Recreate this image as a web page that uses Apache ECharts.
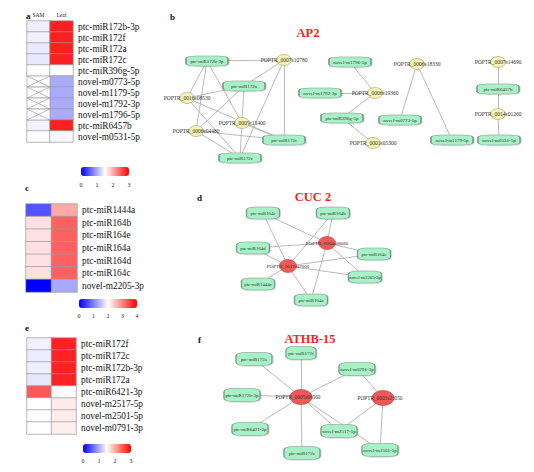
<!DOCTYPE html>
<html><head><meta charset="utf-8">
<script src="https://cdn.jsdelivr.net/npm/echarts@6/dist/echarts.min.js"></script>
<style>html,body{margin:0;padding:0;background:#fff}#c{width:534px;height:472px}</style>
</head><body><div id="c"></div>
<script>
const FONT = 'Liberation Serif';
const cols = ['SAM', 'Leaf'];

// ---- heatmap a ----
const aRows = ['ptc-miR172b-3p','ptc-miR172f','ptc-miR172a','ptc-miR172c','ptc-miR396g-5p','novel-m0773-5p','novel-m1179-5p','novel-m1792-3p','novel-m1796-5p','ptc-miR6457b','novel-m0531-5p'];
const aSAM  = [1.40, 1.42, 1.37, 1.37, 1.50, null, null, null, null, 1.42, 1.50];
const aLeaf = [2.82, 2.82, 2.82, 2.82, 1.50, 1.00, 1.00, 1.00, 1.00, 2.82, 1.46];
const aTicks = [0, 1, 2, 3];

// ---- heatmap c ----
const cRows = ['ptc-miR1444a','ptc-miR164b','ptc-miR164e','ptc-miR164a','ptc-miR164d','ptc-miR164c','novel-m2205-3p'];
const cSAM  = [0.65, 2.24, 2.24, 2.24, 2.24, 2.24, 0.00];
const cLeaf = [2.68, 3.25, 3.25, 3.25, 3.25, 3.25, 1.32];
const cTicks = [0, 1, 2, 3, 4];

// ---- heatmap e ----
const eRows = ['ptc-miR172f','ptc-miR172c','ptc-miR172b-3p','ptc-miR172a','ptc-miR6421-3p','novel-m2517-5p','novel-m2501-5p','novel-m0791-3p'];
const eSAM  = [1.41, 1.39, 1.40, 1.35, 2.48, 1.50, 1.50, 1.50];
const eLeaf = [2.80, 2.80, 2.80, 2.80, 1.50, 1.62, 1.62, 1.60];
const eTicks = [0, 1, 2, 3];

// ---- network b (AP2) ----
const bNodes = [
  ['ptc-miR172b-3p','mirna'],['POPTR_0007s10780','gene'],['ptc-miR172a','mirna'],['POPTR_0016s08530','gene'],
  ['POPTR_0005s15400','gene'],['POPTR_0006s04480','gene'],['ptc-miR172f','mirna'],['ptc-miR172c','mirna'],
  ['novel-m1796-5p','mirna'],['novel-m1792-3p','mirna'],['POPTR_0006s19360','gene'],['ptc-miR396g-5p','mirna'],
  ['POPTR_0001s05300','gene'],['POPTR_0006s18330','gene'],['novel-m0773-5p','mirna'],['novel-m1179-5p','mirna'],
  ['POPTR_0007s14690','gene'],['ptc-miR6457b','mirna'],['POPTR_0014s01260','gene'],['novel-m0531-5p','mirna']
];
const bEdges = [
  ['ptc-miR172b-3p','POPTR_0007s10780'],['ptc-miR172b-3p','POPTR_0016s08530'],['ptc-miR172b-3p','POPTR_0005s15400'],['ptc-miR172b-3p','POPTR_0006s04480'],
  ['ptc-miR172a','POPTR_0007s10780'],['ptc-miR172a','POPTR_0016s08530'],['ptc-miR172a','POPTR_0005s15400'],['ptc-miR172a','POPTR_0006s04480'],
  ['ptc-miR172f','POPTR_0007s10780'],['ptc-miR172f','POPTR_0016s08530'],['ptc-miR172f','POPTR_0005s15400'],['ptc-miR172f','POPTR_0006s04480'],
  ['ptc-miR172c','POPTR_0007s10780'],['ptc-miR172c','POPTR_0016s08530'],['ptc-miR172c','POPTR_0005s15400'],['ptc-miR172c','POPTR_0006s04480'],
  ['novel-m1796-5p','POPTR_0006s19360'],['novel-m1792-3p','POPTR_0006s19360'],['ptc-miR396g-5p','POPTR_0006s19360'],['ptc-miR396g-5p','POPTR_0001s05300'],
  ['POPTR_0006s18330','novel-m0773-5p'],['POPTR_0006s18330','novel-m1179-5p'],
  ['POPTR_0007s14690','ptc-miR6457b'],['ptc-miR6457b','POPTR_0014s01260'],['POPTR_0014s01260','novel-m0531-5p']
];
// ---- network d (CUC 2) ----
const dNodes = [
  ['ptc-miR164c','mirna'],['ptc-miR164b','mirna'],['POPTR_0004s08680','gene'],['ptc-miR164d','mirna'],['ptc-miR164e','mirna'],
  ['POPTR_0017s07000','gene'],['ptc-miR1444a','mirna'],['novel-m2205-3p','mirna'],['ptc-miR164a','mirna']
];
const dEdges = [
  ['ptc-miR164c','POPTR_0004s08680'],['ptc-miR164c','POPTR_0017s07000'],['ptc-miR164b','POPTR_0004s08680'],['ptc-miR164b','POPTR_0017s07000'],
  ['ptc-miR164d','POPTR_0004s08680'],['ptc-miR164d','POPTR_0017s07000'],['ptc-miR164e','POPTR_0004s08680'],['ptc-miR164e','POPTR_0017s07000'],
  ['ptc-miR1444a','POPTR_0017s07000'],['novel-m2205-3p','POPTR_0004s08680'],['novel-m2205-3p','POPTR_0017s07000'],
  ['ptc-miR164a','POPTR_0004s08680'],['ptc-miR164a','POPTR_0017s07000']
];
// ---- network f (ATHB-15) ----
const fNodes = [
  ['ptc-miR172a','mirna'],['ptc-miR172f','mirna'],['novel-m0791-3p','mirna'],['POPTR_0005s06560','gene'],['ptc-miR172b-3p','mirna'],
  ['POPTR_0001s23050','gene'],['ptc-miR6421-3p','mirna'],['novel-m2517-5p','mirna'],['ptc-miR172c','mirna'],['novel-m2501-5p','mirna']
];
const fEdges = [
  ['ptc-miR172a','POPTR_0005s06560'],['ptc-miR172f','POPTR_0005s06560'],['novel-m0791-3p','POPTR_0005s06560'],['novel-m0791-3p','POPTR_0001s23050'],
  ['ptc-miR172b-3p','POPTR_0005s06560'],['ptc-miR6421-3p','POPTR_0005s06560'],['ptc-miR172c','POPTR_0005s06560'],
  ['novel-m2517-5p','POPTR_0005s06560'],['novel-m2501-5p','POPTR_0005s06560'],['novel-m2517-5p','POPTR_0001s23050'],['novel-m2501-5p','POPTR_0001s23050']
];

// ---- layout (positions on page, pixels) ----
const bPos = {
  'ptc-miR172b-3p':[207,61],'POPTR_0007s10780':[284,60],'ptc-miR172a':[244,86],'POPTR_0016s08530':[187,98],
  'POPTR_0005s15400':[242,123],'POPTR_0006s04480':[196,131],'ptc-miR172f':[284,140],'ptc-miR172c':[240,158],
  'novel-m1796-5p':[350,62],'novel-m1792-3p':[320,93],'POPTR_0006s19360':[375,93],'ptc-miR396g-5p':[342,118],
  'POPTR_0001s05300':[373,143],'POPTR_0006s18330':[417,64],'novel-m0773-5p':[400,120],'novel-m1179-5p':[452,140],
  'POPTR_0007s14690':[498,62],'ptc-miR6457b':[498,89],'POPTR_0014s01260':[498,114],'novel-m0531-5p':[499,140]
};
const dPos = {
  'ptc-miR164c':[263,213],'ptc-miR164b':[333,213],'POPTR_0004s08680':[327,243],'ptc-miR164d':[253,248],
  'ptc-miR164e':[374,254],'POPTR_0017s07000':[288,266],'ptc-miR1444a':[258,284],'novel-m2205-3p':[365,277],'ptc-miR164a':[311,300]
};
const fPos = {
  'ptc-miR172a':[254,359],'ptc-miR172f':[301,353],'novel-m0791-3p':[357,369],'POPTR_0005s06560':[301,397],
  'ptc-miR172b-3p':[242,395],'POPTR_0001s23050':[383,398],'ptc-miR6421-3p':[250,429],'novel-m2517-5p':[339,431],
  'ptc-miR172c':[302,453],'novel-m2501-5p':[380,450]
};

const ELLIPSE = 'path://M0,50A50,50,0,1,1,100,50A50,50,0,1,1,0,50Z';
const netStyle = {
  b: {rect:[42,10], gene:[15,11], geneColor:'#f7f3b2', geneBorder:'#b5ad7a', mFont:5, gFont:5.5},
  d: {rect:[33,12], gene:[17,13], geneColor:'#f25858', geneBorder:'#c04848', mFont:4.8, gFont:5},
  f: {rect:[36,13], gene:[22,15], geneColor:'#f25858', geneBorder:'#c04848', mFont:5, gFont:5.3}
};
const sizeOverride = {'f:ptc-miR172f':[30,13]};

function buildGraph(key, nodes, edges, pos) {
  const st = netStyle[key];
  return {
    type: 'graph', coordinateSystem: 'cartesian2d', xAxisIndex: 3, yAxisIndex: 3,
    silent: true, z: 5,
    data: nodes.map(([n, t]) => {
      const isGene = t === 'gene';
      return {
        name: n, value: pos[n],
        symbol: isGene ? ELLIPSE : 'roundRect',
        symbolSize: isGene ? st.gene : (sizeOverride[key + ':' + n] || st.rect),
        itemStyle: isGene
          ? {color: st.geneColor, borderColor: st.geneBorder, borderWidth: 0.7}
          : {color: '#a6f2c6', borderColor: '#7d9a8a', borderWidth: 0.8, shadowColor: 'rgba(0,0,0,0.25)', shadowBlur: 1.5, shadowOffsetX: 0.5, shadowOffsetY: 0.5},
        label: {show: true, position: 'inside', fontFamily: FONT, fontSize: isGene ? st.gFont : st.mFont, color: '#333',
                offset: (isGene && key === 'f') ? [-3, 0] : [0, 0]}
      };
    }),
    links: edges.map(([s, t]) => ({source: s, target: t})),
    lineStyle: {color: '#a8a8a8', width: 0.8, opacity: 1, curveness: 0},
    emphasis: {disabled: true}
  };
}

function hmData(sam, leaf) {
  const out = [];
  sam.forEach((v, i) => { if (v !== null) out.push([0, i, v]); });
  leaf.forEach((v, i) => { if (v !== null) out.push([1, i, v]); });
  return out;
}
const crossData = aSAM.map((v, i) => v === null ? [0, i] : null).filter(d => d);

const grids = [
  {left: 27, top: 21, width: 46, height: 121},
  {left: 26, top: 204, width: 51, height: 88},
  {left: 27, top: 338, width: 49, height: 96},
  {left: 0, top: 0, width: 534, height: 472},
  {left: 81, top: 176, width: 48, height: 1},
  {left: 79, top: 307, width: 58, height: 1},
  {left: 83, top: 452, width: 48, height: 1}
];
const rowsList = [aRows, cRows, eRows];
const labelSizes = [9.3, 9.3, 9.3];
const xAxes = [0, 1, 2].map(i => ({
  type: 'category', gridIndex: i, data: cols, position: 'top',
  axisLine: {show: false}, axisTick: {show: false}, splitLine: {show: false},
  axisLabel: {show: i === 0, fontFamily: FONT, fontSize: 5.5, color: '#222', margin: 3, interval: 0}
}));
const yAxes = [0, 1, 2].map(i => ({
  type: 'category', gridIndex: i, data: rowsList[i], inverse: true, position: 'right',
  axisLine: {show: false}, axisTick: {show: false}, splitLine: {show: false},
  axisLabel: {fontFamily: FONT, fontSize: labelSizes[i], color: '#111', margin: 5, interval: 0, hideOverlap: false}
}));
xAxes.push({type: 'value', gridIndex: 3, min: 0, max: 534, show: false});
yAxes.push({type: 'value', gridIndex: 3, min: 0, max: 472, inverse: true, show: false});
const tickSets = [aTicks, cTicks, eTicks];
[4, 5, 6].forEach((g, k) => {
  const t = tickSets[k];
  xAxes.push({type: 'value', gridIndex: g, min: t[0], max: t[t.length - 1], interval: 1,
    axisLine: {show: false}, axisTick: {show: false}, splitLine: {show: false},
    axisLabel: {fontFamily: FONT, fontSize: 6, color: '#222', margin: 5}});
  yAxes.push({type: 'value', gridIndex: g, show: false});
});

const vmBase = {type: 'continuous', orient: 'horizontal', itemWidth: 9, padding: 0, calculable: false,
  hoverLink: false, inRange: {color: ['#0000ff', '#ffffff', '#ff0000']}};
const visualMap = [
  Object.assign({}, vmBase, {seriesIndex: 0, min: aTicks[0], max: aTicks[aTicks.length - 1], left: 81, top: 167, itemHeight: 48}),
  Object.assign({}, vmBase, {seriesIndex: 1, min: cTicks[0], max: cTicks[cTicks.length - 1], left: 79, top: 299, itemHeight: 58}),
  Object.assign({}, vmBase, {seriesIndex: 2, min: eTicks[0], max: eTicks[eTicks.length - 1], left: 83, top: 444, itemHeight: 48})
];

const hmStyle = {borderColor: '#9c9c9c', borderWidth: 0.7};
const series = [
  {type: 'heatmap', xAxisIndex: 0, yAxisIndex: 0, data: hmData(aSAM, aLeaf), itemStyle: hmStyle, silent: true},
  {type: 'heatmap', xAxisIndex: 1, yAxisIndex: 1, data: hmData(cSAM, cLeaf), itemStyle: hmStyle, silent: true},
  {type: 'heatmap', xAxisIndex: 2, yAxisIndex: 2, data: hmData(eSAM, eLeaf), itemStyle: hmStyle, silent: true},
  {type: 'custom', xAxisIndex: 0, yAxisIndex: 0, data: crossData, silent: true,
    renderItem(params, api) {
      const c = api.coord([api.value(0), api.value(1)]);
      const s = api.size([1, 1]);
      const x0 = c[0] - s[0] / 2, y0 = c[1] - s[1] / 2, x1 = x0 + s[0], y1 = y0 + s[1];
      const st = {stroke: '#9c9c9c', lineWidth: 0.7, fill: null};
      return {type: 'group', children: [
        {type: 'rect', shape: {x: x0, y: y0, width: s[0], height: s[1]}, style: {fill: '#fff', stroke: '#9c9c9c', lineWidth: 0.7}},
        {type: 'line', shape: {x1: x0, y1: y0, x2: x1, y2: y1}, style: st},
        {type: 'line', shape: {x1: x0, y1: y1, x2: x1, y2: y0}, style: st}
      ]};
    }},
  buildGraph('b', bNodes, bEdges, bPos),
  buildGraph('d', dNodes, dEdges, dPos),
  buildGraph('f', fNodes, fEdges, fPos)
];

function txt(text, x, y, size, weight, color, align) {
  return {type: 'text', x: x, y: y, silent: true, z: 10,
    style: {text: text, fontFamily: FONT, fontSize: size, fontWeight: weight, fill: color,
      align: align || 'left', verticalAlign: 'middle'}};
}
const graphic = [
  txt('a', 26, 16, 9, 'bold', '#111'),
  txt('b', 170, 17, 9, 'bold', '#111'),
  txt('c', 25, 188, 9, 'bold', '#111'),
  txt('d', 197, 198, 9, 'bold', '#111'),
  txt('e', 25, 328, 9, 'bold', '#111'),
  txt('f', 198, 340, 9, 'bold', '#111'),
  txt('AP2', 308, 33, 12.5, 'bold', '#ff2020', 'center'),
  txt('CUC 2', 313, 197, 12.5, 'bold', '#ff2020', 'center'),
  txt('ATHB-15', 310, 339, 12.5, 'bold', '#ff2020', 'center')
];

const chart = echarts.init(document.getElementById('c'), null, {renderer: 'svg'});
chart.setOption({
  animation: false, backgroundColor: '#fff',
  textStyle: {fontFamily: FONT},
  grid: grids, xAxis: xAxes, yAxis: yAxes, visualMap: visualMap, series: series, graphic: graphic
});
</script></body></html>
